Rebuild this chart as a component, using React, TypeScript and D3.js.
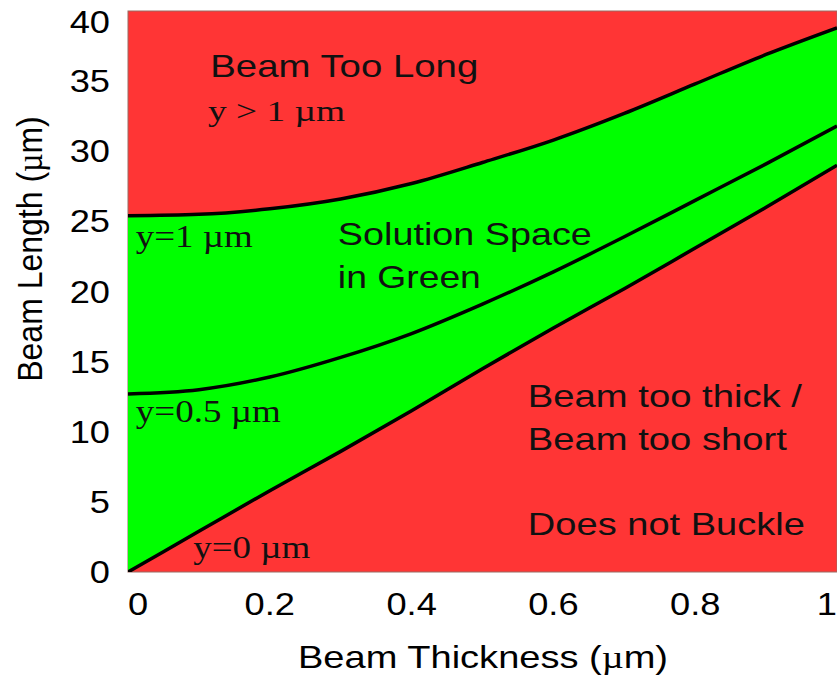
import React from 'react';
import * as d3 from 'd3';

// beam thickness samples (µm) and the beam length read at each for three deflections
const thickness = [0, 0.1, 0.2, 0.3, 0.4, 0.5, 0.6, 0.7, 0.8, 0.9, 1.0];
const lengthY1 = [25.4, 25.5, 25.9, 26.6, 27.7, 29.2, 30.8, 32.7, 34.8, 36.9, 38.8];
const lengthY05 = [12.7, 13.0, 13.9, 15.3, 17.0, 19.1, 21.4, 23.9, 26.5, 29.1, 31.8];
const lengthY0 = [0, 2.9, 5.8, 8.6, 11.5, 14.5, 17.4, 20.2, 23.1, 26.0, 29.0];

const xTicks = [0, 0.2, 0.4, 0.6, 0.8, 1];
const yTicks = [0, 5, 10, 15, 20, 25, 30, 35, 40];

// annotations: [text, x (µm), y (µm), font size, rendered width, serif?]
const notes: [string, number, number, number, number, boolean][] = [
  ['Beam Too Long', 0.116, 35.3, 32, 268, false],
  ['y > 1 µm', 0.113, 32.16, 29, 137, true],
  ['y=1 µm', 0.011, 23.17, 32, 117, true],
  ['Solution Space', 0.296, 23.32, 32, 254, false],
  ['in Green', 0.296, 20.25, 32, 143, false],
  ['y=0.5 µm', 0.011, 10.7, 32, 145, true],
  ['Beam too thick /', 0.564, 11.76, 32, 274, false],
  ['Beam too short', 0.564, 8.7, 32, 259, false],
  ['Does not Buckle', 0.564, 2.64, 32, 277, false],
  ['y=0 µm', 0.092, 1.0, 32, 117, true],
];

const W = 837;
const H = 678;
const SANS = 'Liberation Sans, Arial, sans-serif';
const SERIF = 'Liberation Serif, Times New Roman, serif';
const RED = '#ff3535';
const GREEN = '#00ff00';
const SX = 1.17; // the reference is stretched sideways a bit

export default function App() {
  const x = d3.scaleLinear().domain([0, 1]).range([128, 837]);
  const y = d3.scaleLinear().domain([0, 40]).range([572, 11]);

  const pts = (ls: number[]) => thickness.map((t, i) => [t, ls[i]] as [number, number]);
  const line = d3.line<[number, number]>()
    .x(d => x(d[0]))
    .y(d => y(d[1]))
    .curve(d3.curveMonotoneX);

  const top = line(pts(lengthY1)) || '';
  const bottomRev = line(pts(lengthY0).slice().reverse()) || '';
  const greenPath = top + 'L' + bottomRev.slice(1) + 'Z';

  const [x0, x1] = x.range();
  const [y0, y1] = y.range();

  return (
    <svg width={W} height={H} style={{ position: 'absolute', left: 0, top: 0, background: '#fff' }}>
      <defs>
        <clipPath id="plot">
          <rect x={x0} y={y1} width={x1 - x0} height={y0 - y1} />
        </clipPath>
      </defs>

      <rect x={x0} y={y1} width={x1 - x0} height={y0 - y1} fill={RED} stroke="#9a6a62" strokeWidth={1} />
      <g clipPath="url(#plot)">
        <path d={greenPath} fill={GREEN} />
        {[lengthY1, lengthY05, lengthY0].map((ls, i) => (
          <path key={i} d={line(pts(ls)) || ''} fill="none" stroke="#000" strokeWidth={3.5} strokeLinejoin="round" />
        ))}
      </g>

      {notes.map(([txt, nx, ny, size, w, serif]) => (
        <text key={txt} x={x(nx)} y={y(ny)} fontFamily={serif ? SERIF : SANS} fontSize={size}
          textLength={w} lengthAdjust="spacingAndGlyphs" fill="#111">{txt}</text>
      ))}

      {yTicks.map(v => (
        <text key={v} transform={`translate(110,${Math.max(y(v), 22) + 11}) scale(${SX},1)`}
          textAnchor="end" fontFamily={SANS} fontSize={31}>{v}</text>
      ))}
      {xTicks.map((v, i) => (
        <text key={v} transform={`translate(${x(v)},615) scale(${SX},1)`}
          textAnchor={i === 0 ? 'start' : i === xTicks.length - 1 ? 'end' : 'middle'}
          fontFamily={SANS} fontSize={31}>{v}</text>
      ))}

      <text x={298} y={668} fontFamily={SANS} fontSize={32} textLength={370} lengthAdjust="spacingAndGlyphs">
        Beam Thickness (<tspan fontFamily={SERIF}>µ</tspan>m)
      </text>
      <text transform="translate(42,249) rotate(-90) scale(1,1.1)" textAnchor="middle" fontFamily={SANS} fontSize={32}>
        Beam Length (<tspan fontFamily={SERIF}>µ</tspan>m)
      </text>
    </svg>
  );
}
